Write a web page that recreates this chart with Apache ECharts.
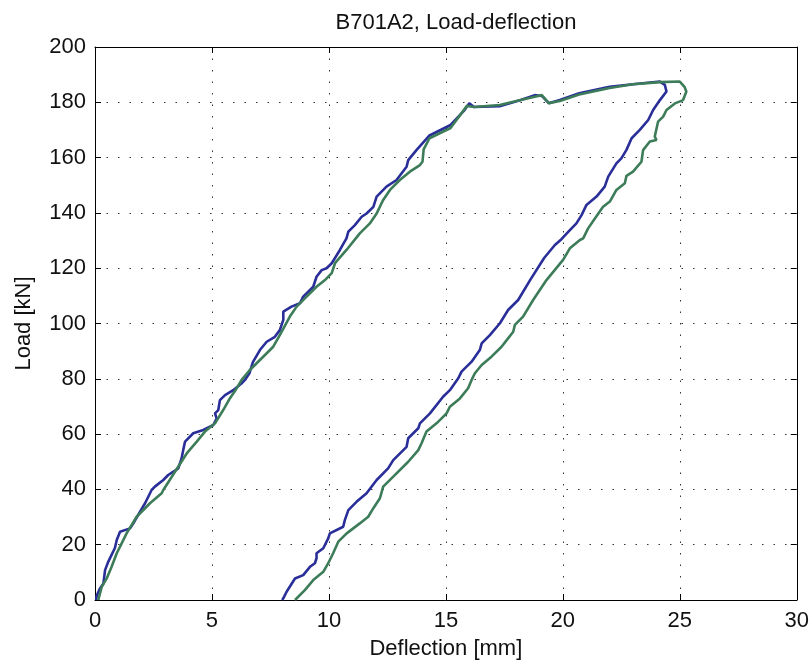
<!DOCTYPE html>
<html><head><meta charset="utf-8">
<script src="https://cdn.jsdelivr.net/npm/echarts@6/dist/echarts.min.js"></script>
<style>html,body{margin:0;padding:0;background:#fff}#c{width:812px;height:668px}</style>
</head><body><div id="c"></div>
<script>
const titleText = 'B701A2, Load-deflection';
const xName = 'Deflection [mm]';
const yName = 'Load [kN]';
const xTicks = [0,5,10,15,20,25,30];
const yTicks = [0,20,40,60,80,100,120,140,160,180,200];

const blueX = [0.05,0.07,0.2,0.36,0.43,0.57,0.85,0.93,1.07,1.5,1.64,1.92,2.14,2.42,2.56,2.92,3.13,3.35,3.56,3.7,3.77,3.85,4.2,4.63,5.06,5.2,5.13,5.27,5.34,5.56,5.91,6.27,6.41,6.6,6.75,7.05,7.34,7.69,7.9,8.05,8.05,8.4,8.76,8.9,9.33,9.47,9.69,9.9,10.12,10.47,10.75,10.83,11.11,11.4,11.61,11.9,12.04,12.46,12.89,13.32,13.39,13.75,14.3,15.2,15.8,16.0,16.2,17.3,18.2,18.8,19.1,19.4,19.87,20.7,22.0,23.0,24.15,24.36,24.43,24.15,23.86,23.65,23.29,22.94,22.72,22.5,22.29,21.94,21.79,21.44,21.01,20.8,20.58,20.3,19.94,19.66,19.2,18.6,18.09,17.66,17.31,16.88,16.53,16.45,16.1,15.67,15.53,15.17,14.88,14.32,13.89,13.82,13.39,13.32,12.75,12.53,12.04,11.61,11.18,10.83,10.68,10.61,10.04,9.97,9.76,9.47,9.47,9.4,9.19,8.9,8.55,8.19,8.05,8.0];
const blueY = [0,1.5,4,6,10.8,13.9,18.8,21.7,24.7,25.9,27.7,31.9,35,39.8,41,43.4,45.2,46.4,47.6,51.2,54.2,57.3,60.3,61.5,63.3,65.7,67.5,68.7,72.3,74.1,75.9,78.4,79.6,82,86,90.4,93.4,95.2,97.6,101.3,104.3,106.1,107.3,109.7,113.3,116.9,119.3,120,121.8,126.6,130.8,133.2,135.6,138.6,139.8,142.2,145.9,149.5,151.9,156.7,159.1,162.8,168,171.8,177.2,179.7,178.3,178.6,180.8,182.6,182.3,179.7,180.8,183.3,185.6,186.5,187.5,186.3,183.9,180.8,177.2,173.6,170,167,162.8,159.7,157.9,153.1,149.5,145.9,142.9,139.2,136.2,133.8,130.5,128.4,123.7,115.7,108.5,104.9,100.1,95.8,92.8,90.4,86.2,82.6,80.2,75.9,73.5,67.5,63.9,62.1,58.5,55.4,50.6,47.6,43.4,38.6,35.5,32.5,28.9,26.5,24.1,22.3,18.7,16.9,15.1,13.3,12.0,9.0,7.8,3.0,0.6,0];

const greenX = [0.14,0.29,0.5,0.71,0.93,1.14,1.35,1.78,2.35,2.85,2.92,3.42,3.92,4.35,4.7,5.13,5.48,5.77,6.06,6.27,6.6,7.05,7.62,7.9,8.33,8.62,8.97,9.47,9.83,10.12,10.26,10.75,11.32,11.75,12.04,12.32,12.61,13.03,13.46,13.89,14.0,14.05,14.3,15.2,15.9,16.2,17.3,18.2,18.8,19.1,19.4,19.87,20.7,22.0,23.0,24.15,25.0,25.2,25.28,25.14,24.79,24.43,24.29,24.07,23.93,24.0,23.72,23.43,23.36,23.0,22.72,22.65,22.29,22.01,21.72,21.37,21.08,20.87,20.73,20.3,20.01,19.3,18.73,18.3,17.95,17.88,17.6,17.38,16.95,16.53,16.24,16.1,15.95,15.6,15.17,15.03,14.6,14.17,13.96,13.82,13.39,12.75,12.32,12.18,11.9,11.68,11.32,10.76,10.4,10.18,9.97,9.76,9.33,8.97,8.55];
const greenY = [0,4.8,7.8,12,16.9,20.5,24.1,30.1,35,38.6,39.8,46.4,53,57.3,60.9,63.9,68.7,73,76.6,79.6,83,86.8,91.6,95.8,102.5,106.1,109.1,113.3,115.7,118.2,121.8,126.6,132.6,136.2,139.8,144.7,148.3,151.9,154.9,157.3,158.5,163,167,170.7,178.7,178.3,179,180.8,182,182.6,179.7,180.5,182.8,185.2,186.5,187.3,187.5,185.6,183.9,180.8,179.6,177.2,174.8,173,167.6,166.4,165.8,162.7,158.5,154.9,153.4,150.7,148.3,144.1,142.2,138,134.4,130.8,130.2,127.2,123,115.7,108.5,102.5,99.5,97.0,94.0,91.6,88.0,85.0,82.0,79.6,76.6,72.9,69.9,67.5,63.9,60.9,56.7,54.2,50.0,44.6,41.0,36.8,33.2,30.1,27.7,24.1,21.1,16.9,13.3,10.2,7.2,3.6,0];

const blueData = blueX.map((x,i)=>[x, blueY[i]]);
const greenData = greenX.map((x,i)=>[x, greenY[i]]);

const font = '"Liberation Sans", Arial, Helvetica, sans-serif';
const gridLine = {show:true, lineStyle:{color:'#333', type:[1.5,10], width:1}};
function axisBase(extra){
  return Object.assign({
    type:'value',
    axisLine:{show:true, onZero:false, lineStyle:{color:'#000', width:1}},
    axisTick:{show:true, inside:true, length:6, lineStyle:{color:'#000'}},
    splitLine:{show:false}
  }, extra);
}
const chart = echarts.init(document.getElementById('c'), null, {renderer:'canvas'});
chart.setOption({
  animation:false,
  backgroundColor:'#fff',
  title:{text:titleText, left:451, top:7, textAlign:'center',
    textStyle:{fontFamily:font, fontSize:22, fontWeight:'normal', color:'#111'}},
  grid:{left:95, right:15, top:47, bottom:68},
  xAxis:[
    axisBase({min:0, max:30, interval:5, position:'bottom',
      name:xName, nameLocation:'middle', nameGap:38,
      nameTextStyle:{fontFamily:font, fontSize:22, color:'#111'},
      axisLabel:{fontFamily:font, fontSize:22, color:'#111', margin:10},
      splitLine:gridLine}),
    axisBase({min:0, max:30, interval:5, position:'top', axisLabel:{show:false}})
  ],
  yAxis:[
    axisBase({min:0, max:200, interval:20, position:'left',
      name:yName, nameLocation:'middle', nameGap:60,
      nameTextStyle:{fontFamily:font, fontSize:22, color:'#111'},
      axisLabel:{fontFamily:font, fontSize:22, color:'#111', margin:9},
      splitLine:gridLine}),
    axisBase({min:0, max:200, interval:20, position:'right', axisLabel:{show:false}})
  ],
  series:[
    {type:'line', data:blueData, showSymbol:false, symbol:'none',
      lineStyle:{color:'#2a2e98', width:2.6}, xAxisIndex:0, yAxisIndex:0},
    {type:'line', data:greenData, showSymbol:false, symbol:'none',
      lineStyle:{color:'#3d7c58', width:2.6}, xAxisIndex:0, yAxisIndex:0}
  ]
});
</script></body></html>
